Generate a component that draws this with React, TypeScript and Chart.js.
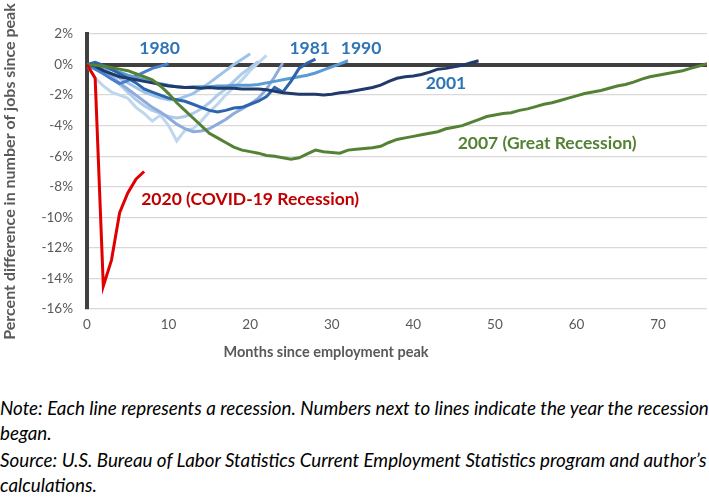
import React, { useEffect, useRef } from "react";
import { Chart, registerables } from "chart.js";
Chart.register(...registerables);

// ---- data (percent difference from employment peak, by month since peak) ----
const xTickValues = [0, 10, 20, 30, 40, 50, 60, 70];
const yTickValues = [2, 0, -2, -4, -6, -8, -10, -12, -14, -16];

const r1948 = [0, -0.9, -1.4, -1.8, -2.0, -2.2, -2.8, -3.2, -3.7, -3.3, -4.0, -5.0, -4.3, -4.2, -3.7, -3.1, -2.6, -2.0, -1.5, -1.0, -0.4, 0.1, 0.6];
const r1953 = [0, -0.2, -0.5, -0.9, -1.3, -1.8, -2.3, -2.7, -3.0, -3.2, -3.4, -3.5, -3.4, -3.2, -2.9, -2.5, -2.0, -1.6, -1.1, -0.6, -0.2, 0.2];
const r1957 = [0, -0.2, -0.5, -0.8, -1.2, -1.6, -2.0, -2.4, -2.8, -3.1, -3.5, -3.9, -4.2, -4.4, -4.35, -4.2, -3.9, -3.6, -3.2, -2.9, -2.6, -2.2, -1.6, -0.8, 0.1];
const r1960 = [0, -0.2, -0.4, -0.6, -0.9, -1.2, -1.5, -1.8, -2.0, -2.2, -2.3, -2.3, -2.1, -1.9, -1.55, -1.2, -0.8, -0.4, 0.0, 0.35, 0.7];
const r1980 = [0, -0.3, -0.6, -0.95, -1.25, -1.05, -0.75, -0.5, -0.25, -0.1, 0.05];
const r1981 = [0, 0.15, -0.05, -0.3, -0.6, -0.9, -1.2, -1.6, -1.8, -2.0, -2.2, -2.3, -2.4, -2.6, -2.8, -3.0, -3.1, -3.0, -2.85, -2.8, -2.6, -2.4, -2.1, -1.5, -1.8, -1.1, -0.25, 0.1, 0.35];
const r1990 = [0, -0.05, -0.2, -0.35, -0.5, -0.7, -0.85, -1.0, -1.15, -1.25, -1.35, -1.45, -1.5, -1.45, -1.45, -1.45, -1.4, -1.4, -1.35, -1.35, -1.35, -1.3, -1.2, -1.1, -1.0, -0.9, -0.8, -0.7, -0.55, -0.35, -0.15, 0.05, 0.25];
const r2001 = [0, -0.1, -0.4, -0.6, -0.8, -0.9, -1.0, -1.1, -1.2, -1.3, -1.4, -1.45, -1.5, -1.5, -1.55, -1.5, -1.55, -1.55, -1.55, -1.6, -1.6, -1.6, -1.65, -1.75, -1.85, -1.9, -1.95, -1.95, -1.95, -2.0, -1.95, -1.85, -1.8, -1.7, -1.6, -1.5, -1.35, -1.1, -0.9, -0.8, -0.75, -0.65, -0.5, -0.3, -0.25, -0.15, -0.05, 0.1, 0.25];
const r2007 = [0, -0.05, -0.1, -0.2, -0.3, -0.4, -0.6, -0.8, -1.0, -1.4, -1.9, -2.5, -3.0, -3.5, -4.0, -4.5, -4.8, -5.1, -5.4, -5.6, -5.7, -5.8, -5.95, -6.0, -6.1, -6.2, -6.1, -5.85, -5.6, -5.7, -5.75, -5.8, -5.6, -5.55, -5.5, -5.45, -5.35, -5.1, -4.9, -4.8, -4.7, -4.6, -4.5, -4.4, -4.2, -4.1, -4.0, -3.8, -3.6, -3.4, -3.3, -3.2, -3.15, -3.0, -2.9, -2.75, -2.6, -2.5, -2.35, -2.2, -2.05, -1.9, -1.8, -1.7, -1.55, -1.4, -1.3, -1.15, -0.95, -0.8, -0.7, -0.6, -0.5, -0.4, -0.25, -0.1, 0.05];
const r2020 = [0, -0.9, -14.5, -12.8, -9.7, -8.4, -7.5, -7.0];

// drawing order: first entry is drawn on top
const seriesTable = [
  { name: "2020", values: r2020, color: "#e00000" },
  { name: "2007", values: r2007, color: "#548235" },
  { name: "2001", values: r2001, color: "#1f3a6b" },
  { name: "1981", values: r1981, color: "#2e64ab" },
  { name: "1990", values: r1990, color: "#5b9bd5" },
  { name: "1980", values: r1980, color: "#4a7fcc" },
  { name: "1957", values: r1957, color: "#8faadc" },
  { name: "1960", values: r1960, color: "#9dc3e6" },
  { name: "1953", values: r1953, color: "#aecbeb" },
  { name: "1948", values: r1948, color: "#bdd7ee" },
];

const annotTexts = ["1980", "1981", "1990", "2001", "2007 (Great Recession)", "2020 (COVID-19 Recession)"];
const annotX = [8.9, 27.3, 33.6, 44.0, 56.4, 20.0];
const annotY = [1.05, 1.05, 1.05, -1.24, -5.16, -8.8];
const annotColors = ["#2e75b6", "#2e75b6", "#2e75b6", "#2e75b6", "#548235", "#c00000"];

const xTitle = "Months since employment peak";
const yTitle = "Percent difference in number of jobs since peak";
const noteLines = [
  "Note: Each line represents a recession. Numbers next to lines indicate the year the recession",
  "began.",
];
const sourceLines = [
  "Source: U.S. Bureau of Labor Statistics Current Employment Statistics program and author\u2019s",
  "calculations.",
];

const FONT = "Lato, 'Open Sans', sans-serif";

const textPlugin = {
  id: "textPlugin",
  afterDatasetsDraw(chart: any) {
    const { ctx, scales, chartArea } = chart;
    const xs = scales.x;
    const ys = scales.y;
    ctx.save();
    ctx.textAlign = "center";
    ctx.textBaseline = "middle";
    ctx.font = `bold 17.5px ${FONT}`;
    annotTexts.forEach((t, i) => {
      ctx.fillStyle = annotColors[i];
      ctx.fillText(t, xs.getPixelForValue(annotX[i]), ys.getPixelForValue(annotY[i]));
    });
    ctx.fillStyle = "#595959";
    ctx.font = `bold 14.5px ${FONT}`;
    ctx.fillText(xTitle, xs.getPixelForValue(29.3), chartArea.bottom + 43);
    ctx.font = `bold 16px ${FONT}`;
    ctx.translate(10, (chartArea.top + chartArea.bottom) / 2);
    ctx.rotate(-Math.PI / 2);
    ctx.fillText(yTitle, 0, 0);
    ctx.restore();
  },
};

export default function App() {
  const canvasRef = useRef<HTMLCanvasElement | null>(null);

  useEffect(() => {
    document.body.style.margin = "0";
    const canvas = canvasRef.current;
    if (!canvas) return;
    const chart = new Chart(canvas, {
      type: "line",
      data: {
        datasets: seriesTable.map((s) => ({
          label: s.name,
          data: s.values.map((v, i) => ({ x: i, y: v })),
          borderColor: s.color,
          backgroundColor: s.color,
          borderWidth: 3,
          pointRadius: 0,
          tension: 0,
          fill: false,
        })),
      },
      options: {
        animation: false,
        responsive: false,
        maintainAspectRatio: false,
        layout: { padding: { top: 34, right: 2, left: 0, bottom: 0 } },
        plugins: { legend: { display: false }, tooltip: { enabled: false } },
        scales: {
          x: {
            type: "linear",
            min: 0,
            max: 76,
            afterBuildTicks: (s: any) => {
              s.ticks = xTickValues.map((v) => ({ value: v }));
            },
            afterFit: (s: any) => {
              s.height = 61;
            },
            grid: { display: false, drawTicks: false },
            border: { display: false },
            ticks: {
              color: "#595959",
              font: { size: 13.5, family: FONT },
              padding: 8,
              autoSkip: false,
              maxRotation: 0,
            },
          },
          y: {
            type: "linear",
            min: -16,
            max: 2,
            afterBuildTicks: (s: any) => {
              s.ticks = yTickValues.map((v) => ({ value: v }));
            },
            afterFit: (s: any) => {
              s.width = 87;
            },
            grid: {
              drawTicks: false,
              color: (c: any) => (c.tick && c.tick.value === 0 ? "#404040" : "#d9d9d9"),
              lineWidth: (c: any) => (c.tick && c.tick.value === 0 ? 4 : 1.3),
            },
            border: { display: true, color: "#404040", width: 4 },
            ticks: {
              color: "#595959",
              font: { size: 13.5, family: FONT },
              padding: 14,
              callback: (v: any) => `${v}%`,
            },
          },
        },
      },
      plugins: [textPlugin],
    });
    return () => chart.destroy();
  }, []);

  return (
    <div style={{ position: "relative", width: 709, height: 503, overflow: "hidden", background: "#fff" }}>
      <canvas ref={canvasRef} width={709} height={370} style={{ display: "block" }} />
      <div
        style={{
          position: "absolute",
          left: 0,
          top: 395,
          fontFamily: FONT,
          fontStyle: "italic",
          fontSize: 18.8,
          lineHeight: "25px",
          color: "#000",
          whiteSpace: "nowrap",
        }}
      >
        {noteLines.map((l, i) => (
          <div key={"n" + i}>{l}</div>
        ))}
        <div style={{ height: 2 }} />
        {sourceLines.map((l, i) => (
          <div key={"s" + i}>{l}</div>
        ))}
      </div>
    </div>
  );
}
